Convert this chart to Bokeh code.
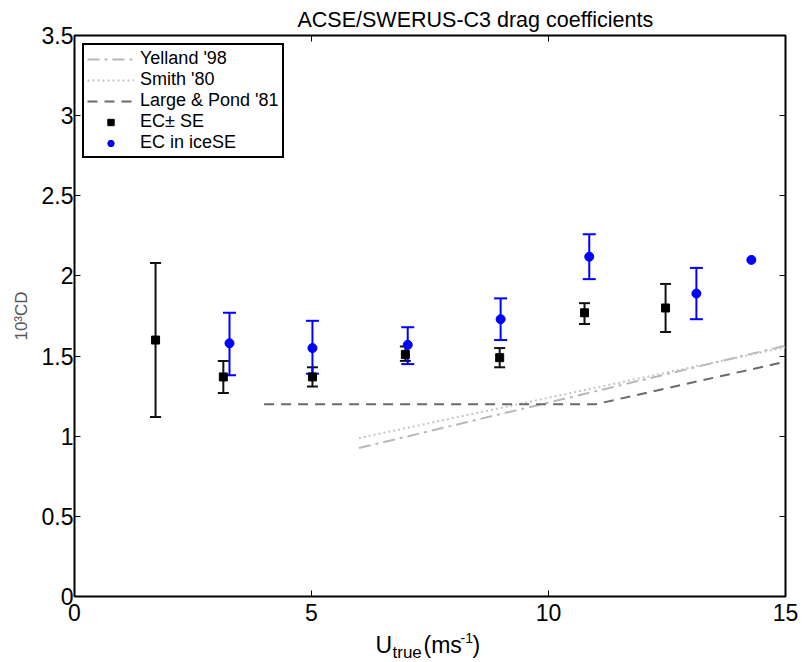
import numpy as np
from bokeh.plotting import figure
from bokeh.layouts import column
from bokeh.models import (Range1d, FixedTicker, LinearAxis, Whisker, TeeHead,
                          ColumnDataSource, Legend, LegendItem)
from bokeh.core.properties import value
from bokeh.embed import file_html
from bokeh.resources import INLINE

# ---- data ----
ec_u = [1.71, 3.14, 5.02, 6.98, 8.97, 10.76, 12.47]
ec_cd = [1.60, 1.37, 1.37, 1.51, 1.49, 1.77, 1.80]
ec_hi = [2.08, 1.47, 1.43, 1.56, 1.55, 1.83, 1.95]
ec_lo = [1.12, 1.27, 1.31, 1.47, 1.43, 1.70, 1.65]

ice_u = [3.27, 5.02, 7.03, 8.99, 10.86, 13.12, 14.28]
ice_cd = [1.58, 1.55, 1.57, 1.73, 2.12, 1.89, 2.10]
ice_hi = [1.77, 1.72, 1.68, 1.86, 2.26, 2.05, None]
ice_lo = [1.38, 1.39, 1.45, 1.60, 1.98, 1.73, None]

yelland_u = [6, 15]
yelland_cd = [0.926, 1.565]
smith_u = [6, 15]
smith_cd = [0.988, 1.555]
lp_u = [4, 11, 15]
lp_cd = [1.2, 1.2, 1.465]

x_ticks = [0, 5, 10, 15]
y_ticks = [0, 0.5, 1, 1.5, 2, 2.5, 3, 3.5]
y_tick_labels = ["0", "0.5", "1", "1.5", "2", "2.5", "3", "3.5"]

title_text = "ACSE/SWERUS-C3 drag coefficients"
y_label = "10\u00b3CD"
# x-axis label pieces: text, font size
xlabel_parts = [("U", "23px"), ("true", "17px"), ("(ms", "23px"), ("-1", "14px"), (")", "23px")]

FONT = "Liberation Sans"

# ---- main plot ----
p = figure(width=806, height=629, x_range=Range1d(0, 15), y_range=Range1d(0, 3.5),
           output_backend="svg", toolbar_location=None,
           min_border_left=74, min_border_right=21, min_border_top=35, min_border_bottom=33)
p.outline_line_color = "black"
p.outline_line_width = 2
p.outline_line_alpha = 1
p.grid.visible = False
p.background_fill_color = "white"
p.border_fill_color = "white"

p.title.text = title_text
p.title.text_font = FONT
p.title.text_font_size = "21.5px"
p.title.text_font_style = "normal"
p.title.text_color = "black"
p.title.align = "left"
p.title.offset = 223
p.title.standoff = 7


def style_axis(ax, ticks, show_labels):
    ax.ticker = FixedTicker(ticks=ticks)
    ax.major_tick_in = 6
    ax.major_tick_out = 0
    ax.major_tick_line_color = "black"
    ax.major_tick_line_width = 1
    ax.minor_tick_line_color = None
    ax.axis_line_color = None
    if show_labels:
        ax.major_label_text_font_size = "23px"
        ax.major_label_text_font = FONT
        ax.major_label_text_color = "black"
    else:
        ax.major_label_text_font_size = "1px"
        ax.major_label_text_color = None
        ax.major_label_standoff = 0


style_axis(p.xaxis[0], x_ticks, True)
p.xaxis[0].major_label_standoff = 7
style_axis(p.yaxis[0], y_ticks, True)
p.yaxis[0].major_label_standoff = 1
p.yaxis[0].major_label_overrides = {t: l for t, l in zip(y_ticks, y_tick_labels)}
p.yaxis[0].axis_label = y_label
p.yaxis[0].axis_label_text_font = FONT
p.yaxis[0].axis_label_text_font_size = "17px"
p.yaxis[0].axis_label_text_font_style = "normal"
p.yaxis[0].axis_label_text_color = "#555555"
p.yaxis[0].axis_label_standoff = 8

top_ax = LinearAxis()
style_axis(top_ax, x_ticks, False)
p.add_layout(top_ax, "above")
right_ax = LinearAxis()
style_axis(right_ax, y_ticks, False)
p.add_layout(right_ax, "right")

# reference lines
r_yel = p.line(yelland_u, yelland_cd, line_color="#b8b8b8", line_width=2, line_dash="12 5 3 5")
r_smi = p.line(smith_u, smith_cd, line_color="#c4c4c4", line_width=2, line_dash="2 3")
r_lp = p.line(lp_u, lp_cd, line_color="#6a6a6a", line_width=2, line_dash="10 7")

# error bars
ec_src = ColumnDataSource(dict(u=ec_u, hi=ec_hi, lo=ec_lo))
p.add_layout(Whisker(base="u", upper="hi", lower="lo", source=ec_src,
                     line_color="#111111", line_width=2,
                     upper_head=TeeHead(size=11, line_color="#111111", line_width=2),
                     lower_head=TeeHead(size=11, line_color="#111111", line_width=2)))
idx = [i for i, h in enumerate(ice_hi) if h is not None]
ice_src = ColumnDataSource(dict(u=[ice_u[i] for i in idx], hi=[ice_hi[i] for i in idx],
                                lo=[ice_lo[i] for i in idx]))
p.add_layout(Whisker(base="u", upper="hi", lower="lo", source=ice_src,
                     line_color="blue", line_width=2,
                     upper_head=TeeHead(size=13, line_color="blue", line_width=2),
                     lower_head=TeeHead(size=13, line_color="blue", line_width=2)))

r_ec = p.scatter(ec_u, ec_cd, marker="square", size=8, color="black")
r_ice = p.scatter(ice_u, ice_cd, marker="circle", size=9, color="blue")

legend = Legend(items=[
    LegendItem(label="Yelland '98", renderers=[r_yel]),
    LegendItem(label="Smith '80", renderers=[r_smi]),
    LegendItem(label="Large & Pond '81", renderers=[r_lp]),
    LegendItem(label="EC\u00b1 SE", renderers=[r_ec]),
    LegendItem(label="EC in iceSE", renderers=[r_ice]),
], location="top_left")
legend.margin = 8
legend.padding = 3
legend.spacing = 0
legend.label_standoff = 6
legend.glyph_width = 47
legend.glyph_height = 16
legend.label_height = 16
legend.label_text_font_size = "18px"
legend.label_text_font = FONT
legend.label_text_color = "black"
legend.border_line_color = "black"
legend.border_line_width = 2
legend.border_line_alpha = 1
legend.background_fill_color = "white"
legend.background_fill_alpha = 1
p.add_layout(legend)

# ---- x-axis label strip (sub/superscript composition) ----
# a thin figure whose frame the column aligns with the main frame;
# x coordinates are page pixels between the frame edges
lab = figure(width=806, height=33, x_range=Range1d(74, 785), y_range=Range1d(0, 33),
             output_backend="svg", toolbar_location=None, title=None,
             x_axis_type=None, y_axis_type=None, min_border=0,
             min_border_left=0, min_border_right=0, min_border_top=0, min_border_bottom=0)
lab.outline_line_color = None
lab.grid.visible = False
lab.background_fill_color = "white"
lab.border_fill_color = "white"
part_x = [375, 392, 423, 460, 472]
part_y = [18, 9.9, 18, 24.7, 18]
for (t, fs), xx, yy in zip(xlabel_parts, part_x, part_y):
    lab.text(x=[xx], y=[yy], text=[t], text_font=value(FONT), text_font_size=value(fs),
             text_align="left", text_baseline="middle", text_color="black")

layout = column(p, lab, spacing=0)
open("out.html", "w").write(file_html(layout, INLINE))
